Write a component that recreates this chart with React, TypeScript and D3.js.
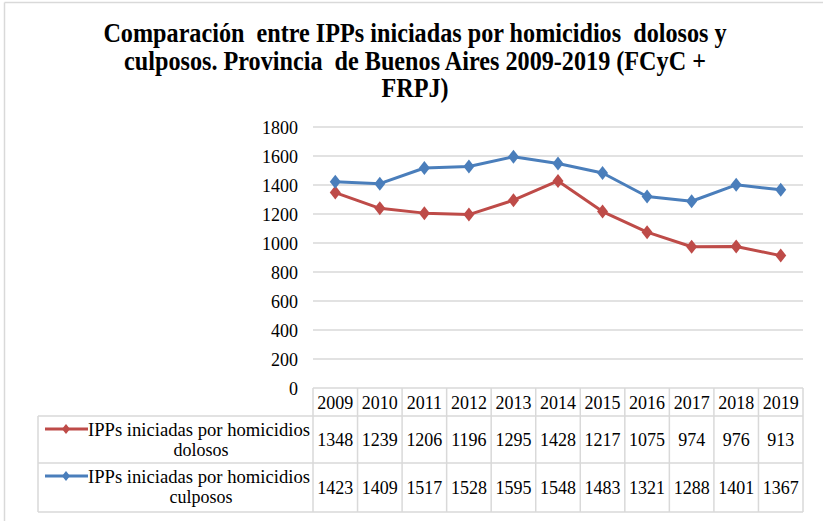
import React from "react";
import * as d3 from "d3";

const years = ["2009","2010","2011","2012","2013","2014","2015","2016","2017","2018","2019"];
const dolosos = [1348,1239,1206,1196,1295,1428,1217,1075,974,976,913];
const culposos = [1423,1409,1517,1528,1595,1548,1483,1321,1288,1401,1367];
const yTicks = [0,200,400,600,800,1000,1200,1400,1600,1800];
const titleLines = [
  "Comparación  entre IPPs iniciadas por homicidios  dolosos y",
  "culposos. Provincia  de Buenos Aires 2009-2019 (FCyC +",
  "FRPJ)",
];
const seriesNames = [
  ["IPPs iniciadas por homicidios", "dolosos"],
  ["IPPs iniciadas por homicidios", "culposos"],
];

const W = 823, H = 521;
const X0 = 313, X1 = 803;
const YB = 388, YT = 127;
const ROW_H = 416, ROW_1 = 463, ROW_2 = 512;
const LEG_X = 38;
const RED = "#BE4B48", BLUE = "#4A7EBB", GRID = "#d9d9d9";
const FONT = "Liberation Serif";
const SY = 1.1;

function T({ x, y, size, anchor = "middle", bold = false, children, len }: any) {
  return (
    <text
      transform={`translate(${x},${y}) scale(1,${SY})`}
      style={{ fontFamily: FONT, fontSize: size, fontWeight: bold ? 700 : 400, whiteSpace: "pre" }}
      textAnchor={anchor}
      fill="#000"
      textLength={len}
      lengthAdjust={len ? "spacingAndGlyphs" : undefined}
    >
      {children}
    </text>
  );
}

function diamond(cx: number, cy: number, rx: number, ry: number) {
  return `M${cx},${cy - ry}L${cx + rx},${cy}L${cx},${cy + ry}L${cx - rx},${cy}Z`;
}

export default function App() {
  const x = d3.scaleBand<string>().domain(years).range([X0, X1]);
  const y = d3.scaleLinear().domain([0, 1800]).range([YB, YT]);
  const cx = (yr: string) => (x(yr) as number) + x.bandwidth() / 2;
  const line = d3.line<number>().x((_, i) => cx(years[i])).y((v) => y(v));
  const series = [
    { vals: dolosos, color: RED },
    { vals: culposos, color: BLUE },
  ];
  const rows = [
    { top: ROW_H, bottom: ROW_1 },
    { top: ROW_1, bottom: ROW_2 },
  ];

  return (
    <svg width={W} height={H} style={{ position: "absolute", left: 0, top: 0, background: "#fff" }}>
      <rect x={0} y={0} width={W} height={H} fill="#fff" />
      <line x1={4.5} y1={2.5} x2={W} y2={2.5} stroke={GRID} strokeWidth={1.5} />
      <line x1={4.5} y1={2.5} x2={4.5} y2={H} stroke={GRID} strokeWidth={1.5} />

      {titleLines.map((t, i) => (
        <T key={i} x={415} y={42 + i * 27.5} size={24.2} bold>
          {t}
        </T>
      ))}

      {yTicks.filter((t) => t > 0).map((t) => (
        <line key={t} x1={X0} x2={X1} y1={y(t)} y2={y(t)} stroke={GRID} strokeWidth={1.5} />
      ))}
      {yTicks.map((t) => (
        <T key={t} x={298} y={y(t) + 6.5} size={18} anchor="end">
          {t}
        </T>
      ))}

      <line x1={X0} x2={X1} y1={YB} y2={YB} stroke={GRID} strokeWidth={1.5} />
      {[ROW_H, ROW_1, ROW_2].map((yy) => (
        <line key={yy} x1={LEG_X} x2={X1} y1={yy} y2={yy} stroke={GRID} strokeWidth={1.5} />
      ))}
      <line x1={LEG_X} x2={LEG_X} y1={ROW_H} y2={ROW_2} stroke={GRID} strokeWidth={1.5} />
      {years.map((yr) => (
        <line key={yr} x1={x(yr)} x2={x(yr)} y1={YB} y2={ROW_2} stroke={GRID} strokeWidth={1.5} />
      ))}
      <line x1={X1} x2={X1} y1={YB} y2={ROW_2} stroke={GRID} strokeWidth={1.5} />

      {years.map((yr) => (
        <T key={yr} x={cx(yr)} y={(YB + ROW_H) / 2 + 6.5} size={18}>
          {yr}
        </T>
      ))}

      {series.map((s, si) => {
        const r = rows[si];
        const mid = (r.top + r.bottom) / 2;
        return (
          <g key={si}>
            {s.vals.map((v, i) => (
              <T key={i} x={cx(years[i])} y={mid + 6.5} size={18}>
                {v}
              </T>
            ))}
            <line x1={45} x2={88} y1={r.top + 13} y2={r.top + 13} stroke={s.color} strokeWidth={3} />
            <path d={diamond(66, r.top + 13, 4, 5)} fill={s.color} />
            <T x={88} y={r.top + 20} size={18} anchor="start" len={222}>
              {seriesNames[si][0]}
            </T>
            <T x={201} y={r.top + 40} size={18}>
              {seriesNames[si][1]}
            </T>
          </g>
        );
      })}

      {series.map((s, si) => (
        <g key={si}>
          <path d={line(s.vals) || ""} fill="none" stroke={s.color} strokeWidth={3} strokeLinejoin="round" />
          {s.vals.map((v, i) => (
            <path key={i} d={diamond(cx(years[i]), y(v), 5.5, 7)} fill={s.color} />
          ))}
        </g>
      ))}
    </svg>
  );
}
